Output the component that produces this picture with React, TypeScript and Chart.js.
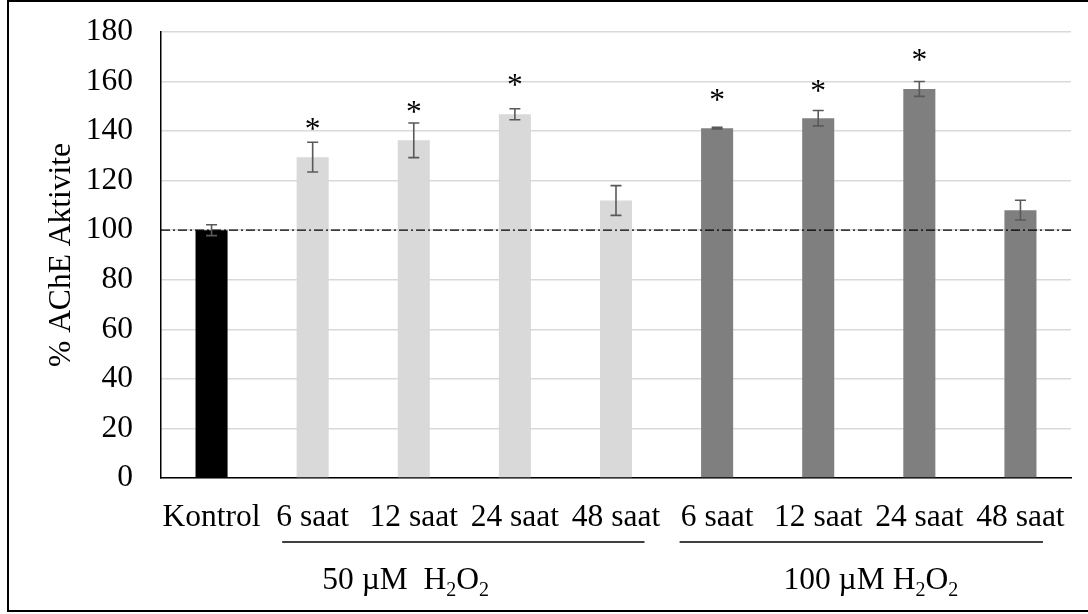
import React, { useEffect, useRef } from 'react';
import { Chart, registerables } from 'chart.js';

Chart.register(...registerables);

const SERIF = "'Liberation Serif', 'Times New Roman', serif";

// ---- data ----
const categories = ['Kontrol', '6 saat', '12 saat', '24 saat', '48 saat', '6 saat', '12 saat', '24 saat', '48 saat'];
const activity = [100, 129.5, 136.3, 146.8, 112, 141.2, 145.2, 157, 108.1];
const sdError = [2.2, 6, 7, 2.2, 6, 0.3, 3.1, 3, 4];
const starLevel: (number | null)[] = [null, 142.5, 149.4, 160.3, null, 154.2, 158.2, 170.7, null];
const barColors = ['#000000', '#d9d9d9', '#d9d9d9', '#d9d9d9', '#d9d9d9', '#7f7f7f', '#7f7f7f', '#7f7f7f', '#7f7f7f'];
const yMin = 0;
const yMax = 180;
const yStep = 20;
const referenceLevel = 100;
const groupLabelParts = [
  ['50 µM  H', '2', 'O', '2'],
  ['100 µM H', '2', 'O', '2'],
];
const groupFrom = [1, 5];
const groupTo = [4, 8];

const FONT_SIZE = 31.5;

const overlayPlugin = {
  id: 'overlay',
  afterDatasetsDraw(chart: any) {
    const { ctx, chartArea } = chart;
    const x = chart.scales.x;
    const y = chart.scales.y;
    ctx.save();

    // reference dash-dot line
    const yr = y.getPixelForValue(referenceLevel);
    ctx.strokeStyle = '#000';
    ctx.lineWidth = 1.3;
    ctx.setLineDash([9, 3, 2, 3]);
    ctx.beginPath();
    ctx.moveTo(chartArea.left, yr);
    ctx.lineTo(chartArea.right + 3, yr);
    ctx.stroke();
    ctx.setLineDash([]);

    // error bars
    ctx.strokeStyle = '#595959';
    ctx.lineWidth = 1.6;
    activity.forEach((v, i) => {
      const cx = x.getPixelForValue(i);
      const t = y.getPixelForValue(v + sdError[i]);
      const b = y.getPixelForValue(v - sdError[i]);
      ctx.beginPath();
      ctx.moveTo(cx, t);
      ctx.lineTo(cx, b);
      ctx.moveTo(cx - 5.5, t);
      ctx.lineTo(cx + 5.5, t);
      ctx.moveTo(cx - 5.5, b);
      ctx.lineTo(cx + 5.5, b);
      ctx.stroke();
    });

    // significance stars
    ctx.fillStyle = '#000';
    ctx.font = `${FONT_SIZE}px ${SERIF}`;
    ctx.textAlign = 'center';
    ctx.textBaseline = 'alphabetic';
    starLevel.forEach((s, i) => {
      if (s == null) return;
      const cy = y.getPixelForValue(s);
      ctx.fillText('*', x.getPixelForValue(i), cy + 0.46 * FONT_SIZE);
    });

    // group lines
    const extL = [30.5, 37.5];
    const extR = [28.5, 22.5];
    const lineY = 542;
    ctx.strokeStyle = '#000';
    ctx.lineWidth = 1.3;
    groupFrom.forEach((f, g) => {
      const x1 = x.getPixelForValue(f) - extL[g];
      const x2 = x.getPixelForValue(groupTo[g]) + extR[g];
      ctx.beginPath();
      ctx.moveTo(x1, lineY);
      ctx.lineTo(x2, lineY);
      ctx.stroke();
    });

    // group labels with subscripts
    const labelPos = [1.92, 6.52];
    const baseline = 589;
    const subSize = Math.round(FONT_SIZE * 0.65);
    groupLabelParts.forEach((parts, g) => {
      let total = 0;
      const widths = parts.map((p, k) => {
        ctx.font = `${k % 2 === 1 ? subSize : FONT_SIZE}px ${SERIF}`;
        const w = ctx.measureText(p).width;
        total += w;
        return w;
      });
      let cx = x.getPixelForValue(labelPos[g]) - total / 2;
      ctx.textAlign = 'left';
      parts.forEach((p, k) => {
        const sub = k % 2 === 1;
        ctx.font = `${sub ? subSize : FONT_SIZE}px ${SERIF}`;
        ctx.fillText(p, cx, baseline + (sub ? 7 : 0));
        cx += widths[k];
      });
    });

    ctx.restore();
  },
  afterDraw(chart: any) {
    const { ctx } = chart;
    ctx.save();
    ctx.strokeStyle = '#000';
    ctx.lineWidth = 2;
    ctx.strokeRect(8, 1, 1200, 610);
    ctx.restore();
  },
};

export default function App() {
  const canvasRef = useRef<HTMLCanvasElement | null>(null);

  useEffect(() => {
    if (!canvasRef.current) return;
    const chart = new Chart(canvasRef.current, {
      type: 'bar',
      data: {
        labels: categories,
        datasets: [
          {
            data: activity,
            backgroundColor: barColors,
            borderWidth: 0,
            barPercentage: 0.317,
            categoryPercentage: 1,
          },
        ],
      },
      options: {
        responsive: false,
        animation: false,
        devicePixelRatio: 1,
        layout: { autoPadding: false, padding: { left: 0, right: 17, top: 32, bottom: 56 } },
        plugins: {
          legend: { display: false },
          tooltip: { enabled: false },
        },
        scales: {
          x: {
            grid: { display: false, drawTicks: false },
            border: { display: true, color: '#000', width: 1.5 },
            ticks: {
              color: '#000',
              font: { family: SERIF, size: FONT_SIZE, lineHeight: 1.2 },
              padding: 21,
              maxRotation: 0,
              minRotation: 0,
              autoSkip: false,
            },
            afterFit: (scale: any) => {
              scale.height = 80;
            },
          },
          y: {
            min: yMin,
            max: yMax,
            grid: { color: '#d9d9d9', lineWidth: 1.5, drawTicks: false },
            border: { display: true, color: '#000', width: 1.5 },
            ticks: {
              stepSize: yStep,
              color: '#000',
              font: { family: SERIF, size: FONT_SIZE, lineHeight: 1.2 },
              padding: 28,
            },
            title: {
              display: true,
              text: '% AChE Aktivite',
              color: '#000',
              font: { family: SERIF, size: FONT_SIZE, lineHeight: 1.2 },
              padding: { top: 43, bottom: 0 },
            },
            afterFit: (scale: any) => {
              scale.width = 161;
              scale.paddingTop = 0;
              scale.paddingBottom = 0;
            },
          },
        },
      },
      plugins: [overlayPlugin],
    });
    return () => chart.destroy();
  }, []);

  return (
    <div style={{ position: 'absolute', left: 0, top: 0, width: 1088, height: 614, background: '#fff' }}>
      <canvas ref={canvasRef} width={1088} height={614} style={{ display: 'block' }} />
    </div>
  );
}
